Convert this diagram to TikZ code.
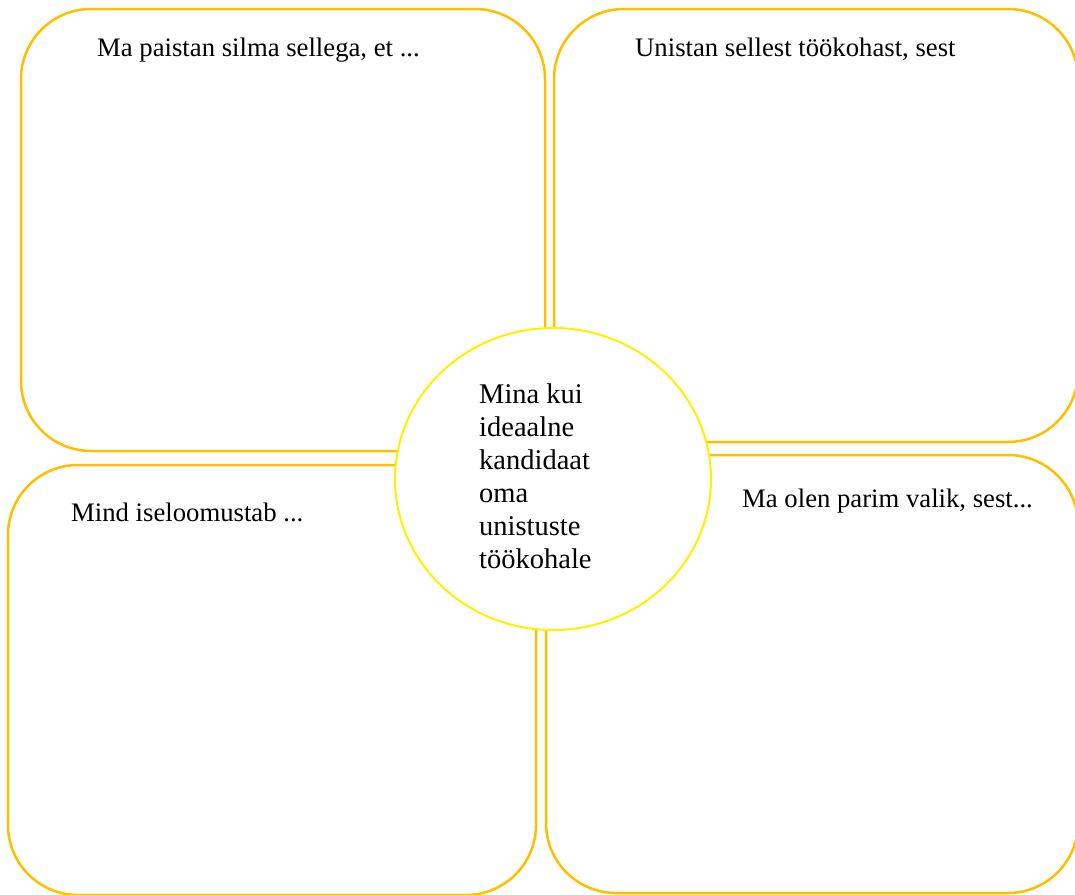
\documentclass[tikz,border=0pt]{standalone}
\usepackage{fontspec}
\setmainfont{Liberation Serif}
\definecolor{ffcqqq}{rgb}{1,0.75,0}
\definecolor{ffffqq}{rgb}{1,0.94,0}

\begin{document}
\begin{tikzpicture}[line cap=round,line join=round,x=1pt,y=-1pt,
  box/.style={line width=2.5pt,color=ffcqqq,rounded corners=70pt},
  label/.style={anchor=base west,inner sep=0pt,font=\fontsize{26.7}{33}\selectfont}]
\useasboundingbox (0,0) rectangle (1075,894);
\clip (0,0) rectangle (1075,894);
\draw [box] (21,9) rectangle (545,451);
\draw [box] (554,9) rectangle (1078,442);
\draw [box] (8,465) rectangle (536,895);
\draw [box] (546,455) rectangle (1078,893);
\draw [line width=2pt,color=ffffqq,fill=white] (553,479) ellipse (158 and 151);
\node [label] (paistan) at (97,56) {Ma paistan silma sellega, et ...};
\node [label] (unistan) at (635,56) {Unistan sellest töökohast, sest};
\node [label] (iseloom) at (71,521) {Mind iseloomustab ...};
\node [label] (valik) at (742,507) {Ma olen parim valik, sest...};
\node [label,anchor=north west,font=\fontsize{28.5}{33}\selectfont,align=left] (mina) at (479,384)
  {Mina kui\\ideaalne\\kandidaat\\oma\\unistuste\\töökohale};
\end{tikzpicture}
\end{document}
